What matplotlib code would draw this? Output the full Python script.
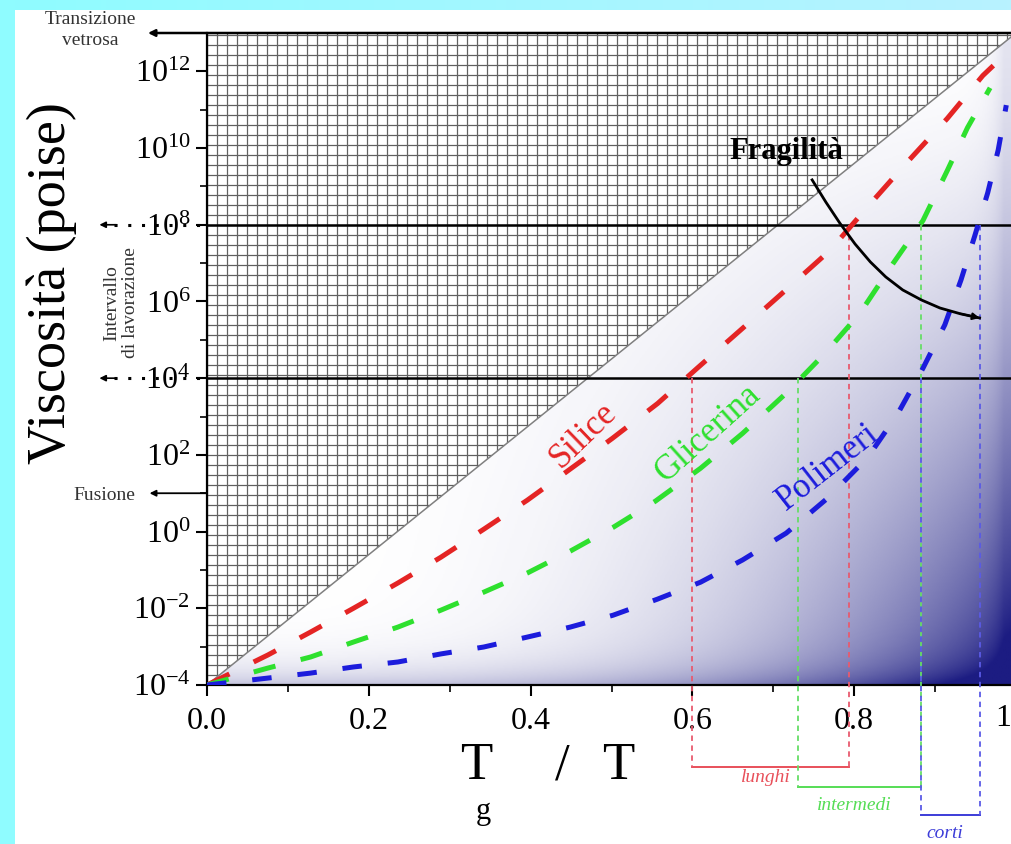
import numpy as np
import matplotlib
matplotlib.use('Agg')
import matplotlib.pyplot as plt
import matplotlib.transforms as mtransforms
from matplotlib.patches import Polygon, Rectangle
from matplotlib.collections import LineCollection
from matplotlib.colors import LinearSegmentedColormap

plt.rcParams['font.family'] = ['Liberation Serif', 'DejaVu Serif']
plt.rcParams['mathtext.fontset'] = 'custom'
plt.rcParams['mathtext.rm'] = 'Liberation Serif'
plt.rcParams['mathtext.it'] = 'Liberation Serif:italic'
plt.rcParams['mathtext.bf'] = 'Liberation Serif:bold'

# --- data (Tg/T , log10 viscosity in poise) ---
tg_silice = [0.0, 0.075, 0.128, 0.181, 0.236, 0.289, 0.342, 0.396, 0.447, 0.501,
             0.557, 0.607, 0.662, 0.715, 0.770, 0.820, 0.865, 0.915, 0.959, 0.972]
log_eta_silice = [-4.0, -3.22, -2.62, -2.0, -1.34, -0.67, 0.06, 0.82, 1.60, 2.43,
                  3.34, 4.28, 5.30, 6.29, 7.33, 8.55, 9.62, 10.77, 11.89, 12.15]

tg_glicerina = [0.0, 0.075, 0.128, 0.181, 0.236, 0.289, 0.342, 0.396, 0.449, 0.502,
                0.554, 0.610, 0.662, 0.717, 0.764, 0.807, 0.848, 0.885, 0.915, 0.940,
                0.968]
log_eta_glicerina = [-4.0, -3.56, -3.27, -2.88, -2.49, -2.05, -1.58, -1.08, -0.51, 0.11,
                     0.79, 1.65, 2.56, 3.63, 4.65, 5.69, 6.99, 8.11, 9.41, 10.53,
                     11.57]

tg_polimeri = [0.0, 0.075, 0.128, 0.181, 0.236, 0.289, 0.342, 0.396, 0.449, 0.502,
               0.557, 0.610, 0.662, 0.716, 0.767, 0.817, 0.854, 0.885, 0.912, 0.932,
               0.949, 0.965, 0.978, 0.988]
log_eta_polimeri = [-4.0, -3.82, -3.69, -3.53, -3.40, -3.19, -3.01, -2.75, -2.49, -2.18,
                    -1.76, -1.32, -0.74, -0.04, 0.87, 1.94, 3.08, 4.26, 5.39, 6.56,
                    7.71, 8.83, 9.95, 11.12]

tg_limit = [0.0, 1.0]
log_eta_limit = [-4.0, 13.0]

log_glass = 13
log_melting = 1
log_working = [4, 8]

# Tg/T at 10^4 and 10^8 poise
range_lunghi = [0.600, 0.793]
range_intermedi = [0.731, 0.883]
range_corti = [0.883, 0.955]

tg_fragility = [0.748, 0.765, 0.782, 0.801, 0.820, 0.839, 0.860, 0.883, 0.906, 0.931, 0.955]
log_eta_fragility = [9.17, 8.59, 8.05, 7.50, 7.03, 6.64, 6.30, 6.04, 5.83, 5.68, 5.57]

ytick_exp = list(range(-4, 13, 2))
xtick_vals = [0.0, 0.2, 0.4, 0.6, 0.8, 1.0]
xtick_labels = ['0.0', '0.2', '0.4', '0.6', '0.8', '']

W, H = 1012, 844
fig = plt.figure(figsize=(W / 100, H / 100), dpi=100)
fig.patch.set_facecolor('white')


def px(x, y):
    return x / W, 1 - y / H


# cyan frame
fig.add_artist(Rectangle((0, 0), 15 / W, 1, transform=fig.transFigure,
                         facecolor='#8ffcff', edgecolor='none'))
top = fig.add_axes([0, 1 - 10 / H, 1, 10 / H])
top.imshow(np.linspace(0, 1, 200)[None, :], aspect='auto',
           cmap=LinearSegmentedColormap.from_list('cy', ['#8ffcff', '#b8f2ff']))
top.axis('off')

ax = fig.add_axes([207 / W, (H - 685) / H, 809 / W, 652 / H])
ax.set_yscale('log')
ax.set_xlim(0, 1)
ax.set_ylim(10.0 ** log_eta_limit[0], 10.0 ** log_eta_limit[1])
ax.set_autoscale_on(False)
ylo, yhi = log_eta_limit

# shaded region below the limit line
u, v = np.meshgrid(np.linspace(0, 1, 500), np.linspace(0, 1, 500))
shade = (u ** 3 * (1 - v) ** 1.6 + 0.25 * np.exp(-v / 0.03)
         + 0.12 * np.exp(-np.clip(0.986 - u, 0, None) / 0.015))
shade = np.clip(shade, 0, 1)
cmap = LinearSegmentedColormap.from_list('shade', ['#ffffff', '#1c1c82'])
im = ax.imshow(shade, cmap=cmap, vmin=0, vmax=1, origin='lower', extent=(0, 1, 0, 1),
               transform=ax.transAxes, aspect='auto', interpolation='bilinear', zorder=0)
lim_pts = np.column_stack([tg_limit, 10.0 ** np.array(log_eta_limit)])
below = Polygon(np.vstack([lim_pts, [[tg_limit[1], 10.0 ** ylo]]]), transform=ax.transData)
im.set_clip_path(below)

# square grid above the limit line
gx = np.arange(0, 1.0, 10 / 809)
gy = np.arange(0, 1.0, 10 / 652)
segs = [[(x, 0), (x, 1)] for x in gx] + [[(0, y), (1, y)] for y in gy]
lc = LineCollection(segs, colors='#606060', linewidths=0.9, transform=ax.transAxes, zorder=1)
ax.add_collection(lc)
above = Polygon(np.vstack([lim_pts, [[tg_limit[0], 10.0 ** yhi]]]), transform=ax.transData)
lc.set_clip_path(above)

ax.plot(tg_limit, 10.0 ** np.array(log_eta_limit), color='#808080', lw=1.1, zorder=2)

# working range lines
blend = mtransforms.blended_transform_factory(ax.transAxes, ax.transData)
for lev in log_working:
    ax.axhline(10.0 ** lev, color='k', lw=1.8, zorder=3)
    ax.plot([-0.115, 0], [10.0 ** lev] * 2, color='k', lw=2.2, linestyle=(0, (1, 3.5)),
            transform=blend, clip_on=False)
    ax.annotate('', xy=(-0.133, 10.0 ** lev), xycoords=blend,
                xytext=(-0.112, 10.0 ** lev), textcoords=blend,
                arrowprops=dict(arrowstyle='-|>', color='k', lw=1.2, mutation_scale=9,
                                shrinkA=0, shrinkB=0), annotation_clip=False)

ax.annotate('', xy=(-0.073, 10.0 ** log_glass), xycoords=blend,
            xytext=(1.0, 10.0 ** log_glass), textcoords=blend,
            arrowprops=dict(arrowstyle='-|>', color='k', lw=1.8, mutation_scale=10,
                            shrinkA=0, shrinkB=0), annotation_clip=False, zorder=5)
ax.annotate('', xy=(-0.071, 10.0 ** log_melting), xycoords=blend,
            xytext=(0.0, 10.0 ** log_melting), textcoords=blend,
            arrowprops=dict(arrowstyle='-|>', color='k', lw=1.3, mutation_scale=9,
                            shrinkA=0, shrinkB=0), annotation_clip=False)

# vertical ranges and brackets
vblend = mtransforms.blended_transform_factory(ax.transData, ax.transAxes)
brackets = [(range_lunghi, '#e85a6e', '#e8505a', -0.126, 'lunghi', 766, 777),
            (range_intermedi, '#66dd66', '#55dd55', -0.157, 'intermedi', 854, 805),
            (range_corti, '#5a5ae6', '#3c3cd8', -0.199, 'corti', 945, 833)]
for rng, vcol, hcol, yb, name, tx, ty in brackets:
    for x, lev in zip(rng, log_working):
        f = (lev - ylo) / (yhi - ylo)
        ax.plot([x, x], [f, yb], color=vcol, lw=1.3, linestyle=(0, (3, 2.5)),
                transform=vblend, clip_on=False, zorder=3)
    ax.plot(rng, [yb, yb], color=hcol, lw=1.4, transform=vblend, clip_on=False)
    fig.text(*px(tx, ty), name, color=hcol, fontsize=14, style='italic',
             ha='center', va='center')

# curves
ax.plot(tg_silice, 10.0 ** np.array(log_eta_silice), color='#e42424', lw=3.6,
        dashes=(5.0, 5.4), zorder=4)
ax.plot(tg_glicerina, 10.0 ** np.array(log_eta_glicerina), color='#2ee02e', lw=3.6,
        dashes=(4.5, 5.2), zorder=4)
ax.plot(tg_polimeri, 10.0 ** np.array(log_eta_polimeri), color='#1c1cdc', lw=3.6,
        dashes=(3.9, 5.2), zorder=4)

ax.text(0.465, 10 ** 2.52, 'Silice', color='#e42424', fontsize=25, rotation=44,
        rotation_mode='anchor', ha='center', va='center', zorder=5)
ax.text(0.619, 10 ** 2.57, 'Glicerina', color='#2ee02e', fontsize=25, rotation=42,
        rotation_mode='anchor', ha='center', va='center', zorder=5)
ax.text(0.768, 10 ** 1.68, 'Polimeri', color='#1c1cdc', fontsize=25, rotation=38,
        rotation_mode='anchor', ha='center', va='center', zorder=5)

# fragility
fr_y = 10.0 ** np.array(log_eta_fragility)
ax.plot(tg_fragility, fr_y, color='k', lw=2, zorder=6)
ax.annotate('', xy=(tg_fragility[-1], fr_y[-1]), xytext=(tg_fragility[-2], fr_y[-2]),
            arrowprops=dict(arrowstyle='-|>', color='k', lw=1.5, mutation_scale=10,
                            shrinkA=0, shrinkB=0), zorder=6)
ax.text(0.716, 10 ** 9.9, 'Fragilità', fontsize=22, fontweight='bold', ha='center',
        va='center', zorder=6)

# axes styling
for side in ['top', 'right']:
    ax.spines[side].set_visible(False)
for side in ['left', 'bottom']:
    ax.spines[side].set_linewidth(1.6)
ax.set_yticks([10.0 ** e for e in ytick_exp])
ax.set_yticklabels([r'$\mathrm{10^{%d}}$' % e for e in ytick_exp])
ax.set_yticks([10.0 ** e for e in range(-3, 13, 2)], minor=True)
ax.yaxis.set_minor_formatter(plt.NullFormatter())
ax.set_xticks(xtick_vals)
ax.set_xticklabels(xtick_labels)
ax.set_xticks(np.arange(0.1, 1.0, 0.2), minor=True)
ax.tick_params(which='major', direction='out', length=8, width=1.5, labelsize=23, pad=4)
ax.tick_params(which='minor', direction='out', length=5, width=1.2)
ax.tick_params(axis='x', pad=8)
fig.text(*px(1003, 719), '1', fontsize=23, ha='center', va='center')

# outer labels
fig.text(*px(52, 283), 'Viscosità (poise)', fontsize=39, rotation=90, ha='center', va='center')
fig.text(*px(476, 766), 'T', fontsize=38, ha='center', va='center')
fig.text(*px(483, 812), 'g', fontsize=22, ha='center', va='center')
fig.text(*px(562, 766), '/', fontsize=38, ha='center', va='center')
fig.text(*px(618, 766), 'T', fontsize=38, ha='center', va='center')
fig.text(*px(90, 30), 'Transizione\nvetrosa', fontsize=14, ha='center', va='center',
         color='#333333', linespacing=1.3)
fig.text(*px(104, 495), 'Fusione', fontsize=14, ha='center', va='center', color='#333333')
fig.text(*px(121, 303), 'Intervallo\ndi lavorazione', fontsize=14, rotation=90,
         ha='center', va='center', color='#333333', linespacing=1.1)

fig.savefig('out.png', dpi=100, facecolor='white')
